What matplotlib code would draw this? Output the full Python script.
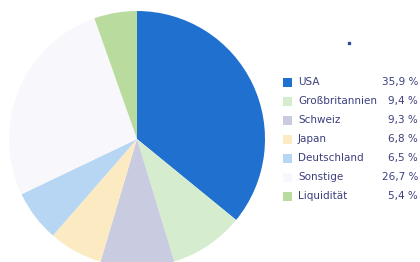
import matplotlib
matplotlib.use("Agg")
import matplotlib.pyplot as plt
from matplotlib.patches import Rectangle

labels = ["USA", "Großbritannien", "Schweiz", "Japan", "Deutschland", "Sonstige", "Liquidität"]
values = [35.9, 9.4, 9.3, 6.8, 6.5, 26.7, 5.4]
value_labels = ["35,9 %", "9,4 %", "9,3 %", "6,8 %", "6,5 %", "26,7 %", "5,4 %"]
colors = ["#2070d0", "#d6eccf", "#c9cbe0", "#fbeac2", "#b7d6f4", "#f8f8fc", "#b9dc9e"]

W, H = 420, 262
fig = plt.figure(figsize=(W / 100, H / 100), dpi=100)
fig.patch.set_facecolor("white")

# pie axes: centre (137,139), radius ~128 px
r = 128
cx, cy = 137, 139
ax = fig.add_axes([(cx - r) / W, (H - cy - r) / H, 2 * r / W, 2 * r / H])
ax.pie(values, colors=colors, startangle=90, counterclock=False,
       wedgeprops=dict(linewidth=0))
ax.set_xlim(-1, 1)
ax.set_ylim(-1, 1)
ax.set_aspect("equal")
ax.axis("off")

# legend
lax = fig.add_axes([0, 0, 1, 1])
lax.set_xlim(0, W)
lax.set_ylim(H, 0)
lax.axis("off")
text_color = "#3b3f7c"
y0, dy = 82, 19
for i, (lab, vl, c) in enumerate(zip(labels, value_labels, colors)):
    y = y0 + i * dy
    lax.add_patch(Rectangle((283, y - 4.5), 9, 9, facecolor=c, edgecolor="none"))
    lax.text(298, y, lab, fontsize=7.5, color=text_color, va="center", ha="left",
             family="DejaVu Sans")
    lax.text(418, y, vl, fontsize=7.5, color=text_color, va="center", ha="right",
             family="DejaVu Sans")

# small stray dot
lax.plot([349], [43], marker="s", markersize=1.5, color="#2a4a9a")

fig.savefig("out.png", dpi=100, facecolor="white")
